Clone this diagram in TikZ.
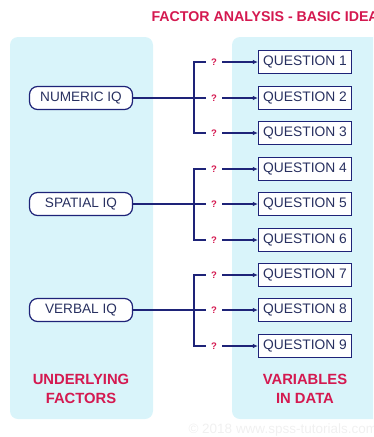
\documentclass[tikz,border=0pt]{standalone}
\usepackage{fontspec}
\setmainfont{Liberation Sans}
\usetikzlibrary{arrows.meta,positioning}

\definecolor{panelblue}{HTML}{D9F4FA}
\definecolor{crimson}{HTML}{D41950}
\definecolor{navy}{HTML}{1E2378}
\definecolor{boxtext}{HTML}{283060}

\begin{document}
\begin{tikzpicture}[x = 1pt, y = -1pt,
    factor/.style = {draw = navy, line width = 1.2pt, rounded corners = 8pt, fill = white,
        minimum width = 103pt, minimum height = 23pt, inner sep = 0pt,
        text = boxtext, font = \fontsize{13.6}{15}\selectfont},
    question/.style = {draw = navy, line width = 1.2pt, fill = white,
        minimum width = 93pt, minimum height = 23pt, inner sep = 0pt,
        text = boxtext, font = \fontsize{13.8}{15}\selectfont},
    qmark/.style = {text = crimson, font = \fontsize{9.5}{10}\selectfont\bfseries, inner xsep = 5pt, inner ysep = 1pt},
    link/.style = {draw = navy, line width = 1.2pt},
    heading/.style = {text = crimson, font = \fontsize{14.8}{19}\selectfont\bfseries, align = center}]
        % frame
        \clip (0,0) rectangle (373,437);
        % panels
        \path[fill = panelblue, rounded corners = 8pt](10,37) rectangle (153,419);
        \path[fill = panelblue, rounded corners = 8pt](232,37) rectangle (400,419);
        % title
        \node[anchor = west, text = crimson, font = \fontsize{14.2}{16}\selectfont\bfseries](title) at (148,17) {FACTOR ANALYSIS - BASIC IDEA};
        % questions
        \foreach \i/\y in {1/62, 2/98, 3/133, 4/169, 5/204, 6/240, 7/275, 8/310, 9/346}{
            \node[question](q\i) at (305,\y) {QUESTION \i};
            \node[qmark](m\i) at (214,\y) {?};
            \path[link, -{Latex[length = 5pt, width = 4.5pt]}](m\i) -- (q\i);
        }
        % factors
        \node[factor](numeric) at (81,0 |- m2) {NUMERIC IQ};
        \node[factor](spatial) at (81,0 |- m5) {SPATIAL IQ};
        \node[factor](verbal) at (81,0 |- m8) {VERBAL IQ};
        % forks
        \foreach \f/\a/\b/\c in {numeric/1/2/3, spatial/4/5/6, verbal/7/8/9}{
            \coordinate (fork\b) at (194,0 |- m\b);
            \path[link](\f) -- (m\b);
            \path[link](m\a.west) -| (fork\b) |- (m\c.west);
        }
        % captions
        \node[heading](factors) at (81,389) {UNDERLYING\\FACTORS};
        \node[heading](variables) at (305,389) {VARIABLES\\IN DATA};
        \node[anchor = west, text = black!6, font = \fontsize{13.5}{15}\selectfont](credit) at (185,430) {© 2018 www.spss-tutorials.com};
    \end{tikzpicture}
\end{document}
